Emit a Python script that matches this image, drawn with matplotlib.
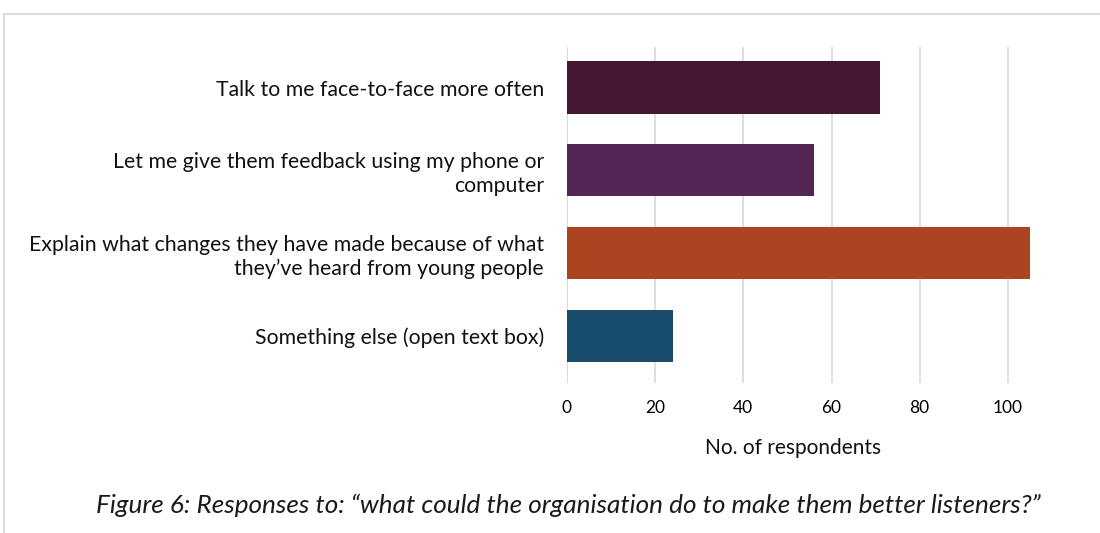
import matplotlib
matplotlib.use("Agg")
import matplotlib.pyplot as plt
from matplotlib.patches import Rectangle

categories = [
    "Talk to me face-to-face more often",
    "Let me give them feedback using my phone or\ncomputer",
    "Explain what changes they have made because of what\nthey\u2019ve heard from young people",
    "Something else (open text box)",
]
values = [71, 56, 105, 24]
colors = ["#461733", "#532555", "#AD4421", "#184D6E"]
xticks = [0, 20, 40, 60, 80, 100]

plt.rcParams["font.family"] = ["Lato", "DejaVu Sans"]

fig = plt.figure(figsize=(11, 5.33), dpi=100)
W, H = 1100, 533

# outer frame
fig.patches.append(Rectangle((4 / W, -0.05), 1.2, 1 - 14 / H + 0.05,
                             transform=fig.transFigure, fill=False,
                             edgecolor="#dcdcdc", linewidth=1.5))

ax = fig.add_axes([567 / W, 1 - 383 / H, (1096 - 567) / W, (383 - 47) / H])
y = list(range(len(categories)))
ax.barh(y, values, height=0.63, color=colors, zorder=3)
ax.set_ylim(3.57, -0.49)
ax.set_xlim(0, 120)
ax.set_xticks(xticks)
ax.set_xticklabels([str(t) for t in xticks], fontsize=12.5)
ax.set_yticks(y)
ax.set_yticklabels(categories, fontsize=15.3, linespacing=1.25, color="#111111")
ax.tick_params(axis="y", length=0, pad=16.5)
ax.tick_params(axis="x", length=0, pad=12)
ax.grid(axis="x", color="#d9d9d9", linewidth=1.2, zorder=0)
for s in ax.spines.values():
    s.set_visible(False)
ax.axvline(0, color="#d9d9d9", linewidth=1.2, zorder=2)
ax.set_xlabel("No. of respondents", fontsize=15, color="#111111")
ax.xaxis.set_label_coords((793 - 567) / (1096 - 567), -0.165)

fig.text(568 / W, 1 - 505 / H,
         "Figure 6: Responses to: \u201cwhat could the organisation do to make them better listeners?\u201d",
         ha="center", va="center", fontsize=18.8, style="italic", color="#1a1a1a")

fig.savefig("out.png", dpi=100, facecolor="white")
